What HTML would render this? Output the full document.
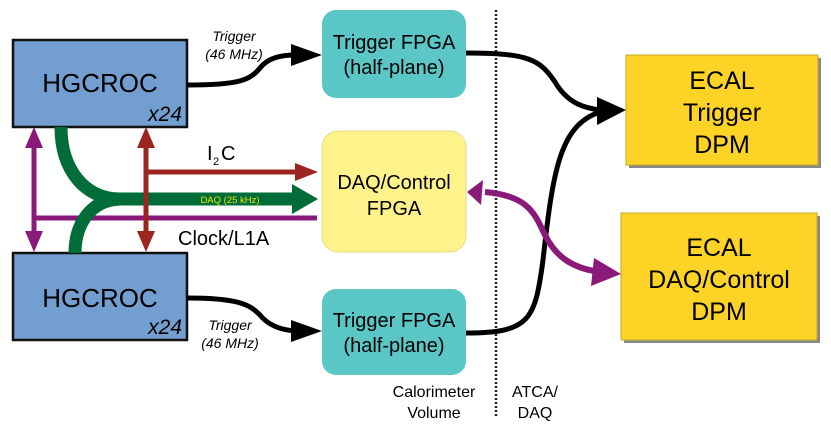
<!DOCTYPE html>
<html><head><meta charset="utf-8"><style>
html,body{margin:0;padding:0;background:#fff;}
svg{display:block;}
text{font-family:"Liberation Sans",sans-serif;fill:#000;}
</style></head><body>
<svg width="831" height="427" viewBox="0 0 831 427" xmlns="http://www.w3.org/2000/svg">
<line x1="496" y1="10" x2="496" y2="418" stroke="#222" stroke-width="2.5" stroke-dasharray="2,2"/>
<rect x="629" y="58" width="192" height="110" fill="#888"/>
<rect x="626" y="55" width="192" height="110" fill="#fdd426" stroke="#c9a92a" stroke-width="1"/>
<text x="722" y="89" font-size="25" text-anchor="middle">ECAL</text>
<text x="722" y="121" font-size="25" text-anchor="middle">Trigger</text>
<text x="722" y="153" font-size="25" text-anchor="middle">DPM</text>
<rect x="624" y="216" width="196" height="127" fill="#888"/>
<rect x="621" y="213" width="196" height="127" fill="#fdd426" stroke="#c9a92a" stroke-width="1"/>
<text x="719" y="256" font-size="25" text-anchor="middle">ECAL</text>
<text x="719" y="288" font-size="25" text-anchor="middle">DAQ/Control</text>
<text x="719" y="320" font-size="25" text-anchor="middle">DPM</text>
<path d="M466 53 C530 53 540 60 555 82 C568 104 585 108 600 110" fill="none" stroke="#000" stroke-width="5"/>
<path d="M466 333 C530 333 535 320 543 260 C553 170 560 125 600 112" fill="none" stroke="#000" stroke-width="5"/>
<polygon points="626,110 597,97 597,125" fill="#000"/>
<path d="M485 192 C530 196 535 215 545 235 C555 255 570 268 600 272" fill="none" stroke="#8a1a7a" stroke-width="6"/>
<polygon points="467,192 483,180 481,205" fill="#8a1a7a"/>
<polygon points="621,274 594,258 591,286" fill="#8a1a7a"/>
<rect x="322" y="10" width="144" height="88" rx="14" fill="#5bc6c6"/>
<text x="394" y="49" font-size="20" text-anchor="middle">Trigger FPGA</text>
<text x="394" y="74" font-size="20" text-anchor="middle">(half-plane)</text>
<rect x="322" y="131" width="144" height="121" rx="16" fill="#fef38a" stroke="#e6dc88" stroke-width="1"/>
<text x="394" y="189" font-size="20" text-anchor="middle">DAQ/Control</text>
<text x="394" y="215" font-size="20" text-anchor="middle">FPGA</text>
<rect x="322" y="289" width="144" height="86" rx="14" fill="#5bc6c6"/>
<text x="394" y="327" font-size="20" text-anchor="middle">Trigger FPGA</text>
<text x="394" y="352" font-size="20" text-anchor="middle">(half-plane)</text>
<rect x="13" y="40" width="174" height="87" fill="#729fcf" stroke="#111" stroke-width="2.5"/>
<text x="100" y="92" font-size="26" text-anchor="middle">HGCROC</text>
<text x="182" y="121" font-size="21" font-style="italic" text-anchor="end">x24</text>
<rect x="13" y="253" width="174" height="87" fill="#729fcf" stroke="#111" stroke-width="2.5"/>
<text x="100" y="307" font-size="26" text-anchor="middle">HGCROC</text>
<text x="182" y="334" font-size="21" font-style="italic" text-anchor="end">x24</text>
<path d="M187 85 C240 85 250 80 260 68 C268 58 280 55 296 55" fill="none" stroke="#000" stroke-width="5"/>
<polygon points="322,55 291,44 291,66" fill="#000"/>
<text x="234" y="41" font-size="14" font-style="italic" text-anchor="middle">Trigger</text>
<text x="234" y="59" font-size="14" font-style="italic" text-anchor="middle">(46 MHz)</text>
<path d="M187 298 C240 298 250 305 260 315 C268 325 280 330 296 331" fill="none" stroke="#000" stroke-width="5"/>
<polygon points="322,331 291,320 291,342" fill="#000"/>
<text x="230" y="330" font-size="14" font-style="italic" text-anchor="middle">Trigger</text>
<text x="230" y="348" font-size="14" font-style="italic" text-anchor="middle">(46 MHz)</text>
<line x1="34" y1="140" x2="34" y2="240" stroke="#8a1a7a" stroke-width="5"/>
<polygon points="34,127 25,148 43,148" fill="#8a1a7a"/>
<polygon points="34,252 25,231 43,231" fill="#8a1a7a"/>
<line x1="34" y1="218" x2="317" y2="218" stroke="#8a1a7a" stroke-width="5"/>
<path d="M61 127 C61 170 85 199 120 199" fill="none" stroke="#006c38" stroke-width="13"/>
<path d="M75 253 C75 225 90 200 120 199" fill="none" stroke="#006c38" stroke-width="13"/>
<line x1="115" y1="199" x2="295" y2="199" stroke="#006c38" stroke-width="13"/>
<polygon points="318,199 292,184 292,214" fill="#006c38"/>
<text x="230" y="203" font-size="9.5" style="fill:#e8e800" text-anchor="middle">DAQ (25 kHz)</text>
<line x1="146" y1="140" x2="146" y2="240" stroke="#9b2520" stroke-width="5"/>
<polygon points="146,127 137,148 155,148" fill="#9b2520"/>
<polygon points="146,252 137,231 155,231" fill="#9b2520"/>
<line x1="146" y1="172" x2="298" y2="172" stroke="#9b2520" stroke-width="5"/>
<polygon points="318,172 295,163 295,181" fill="#9b2520"/>
<text x="207" y="160" font-size="20">I</text>
<text x="213" y="165" font-size="11">2</text>
<text x="221" y="160" font-size="20">C</text>
<text x="178" y="245" font-size="20">Clock/L1A</text>
<text x="434" y="397" font-size="16" text-anchor="middle">Calorimeter</text>
<text x="434" y="418" font-size="16" text-anchor="middle">Volume</text>
<text x="535" y="397" font-size="16" text-anchor="middle">ATCA/</text>
<text x="535" y="418" font-size="16" text-anchor="middle">DAQ</text>
</svg>
</body></html>
